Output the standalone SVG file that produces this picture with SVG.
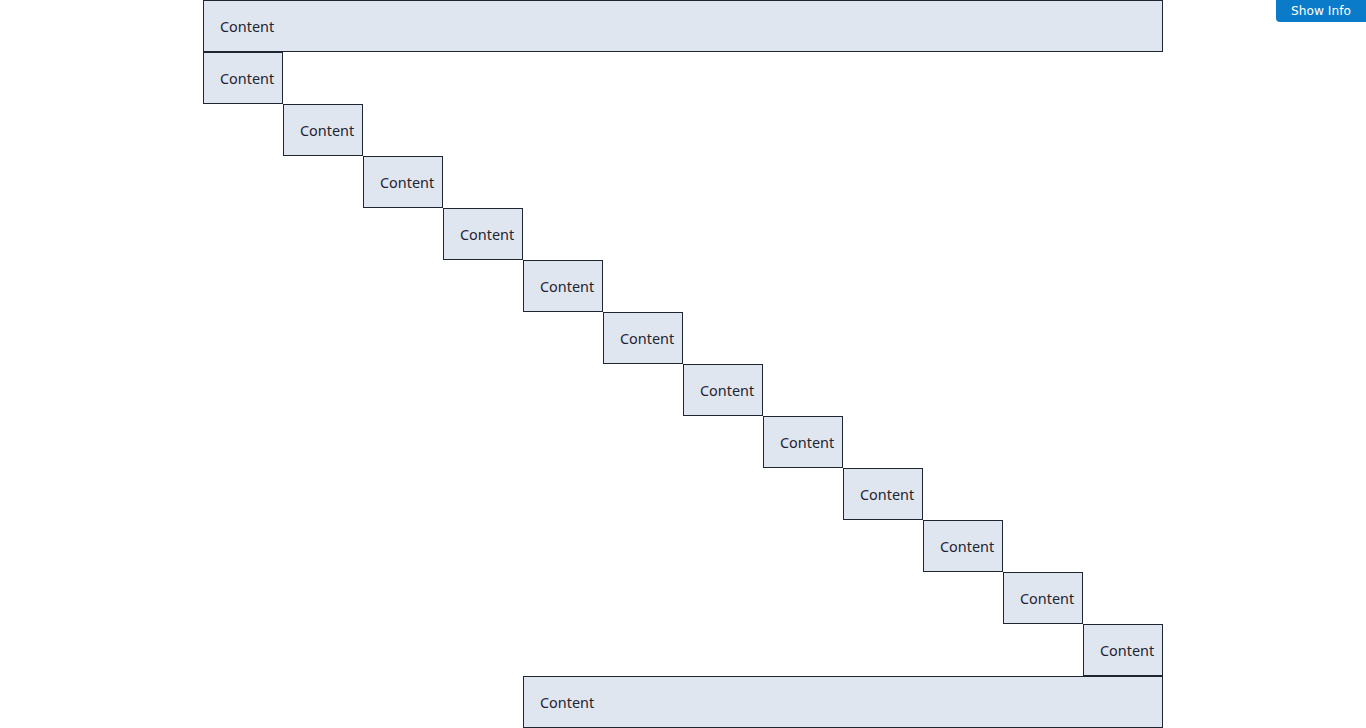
<svg xmlns="http://www.w3.org/2000/svg" width="1366" height="728" viewBox="0 0 1366 728">
<style>
.box{fill:#e0e6f0;stroke:#1e2430;stroke-width:1}
.t{font-family:"Noto Sans","Open Sans",sans-serif;font-size:14.4px;fill:#1e2430}
.btn{fill:#0a7bc8}
.bt{font-family:"DejaVu Sans",sans-serif;font-size:12.2px;fill:#ffffff}
</style>
<rect width="1366" height="728" fill="#ffffff"/>
<g id="connectors"></g>
<g id="n-top"><rect class="box" x="203.5" y="0.5" width="959" height="51"/><text class="t" x="220" y="32">Content</text></g>
<g id="n1"><rect class="box" x="203.5" y="52.5" width="79" height="51"/><text class="t" x="220" y="84">Content</text></g>
<g id="n2"><rect class="box" x="283.5" y="104.5" width="79" height="51"/><text class="t" x="300" y="136">Content</text></g>
<g id="n3"><rect class="box" x="363.5" y="156.5" width="79" height="51"/><text class="t" x="380" y="188">Content</text></g>
<g id="n4"><rect class="box" x="443.5" y="208.5" width="79" height="51"/><text class="t" x="460" y="240">Content</text></g>
<g id="n5"><rect class="box" x="523.5" y="260.5" width="79" height="51"/><text class="t" x="540" y="292">Content</text></g>
<g id="n6"><rect class="box" x="603.5" y="312.5" width="79" height="51"/><text class="t" x="620" y="344">Content</text></g>
<g id="n7"><rect class="box" x="683.5" y="364.5" width="79" height="51"/><text class="t" x="700" y="396">Content</text></g>
<g id="n8"><rect class="box" x="763.5" y="416.5" width="79" height="51"/><text class="t" x="780" y="448">Content</text></g>
<g id="n9"><rect class="box" x="843.5" y="468.5" width="79" height="51"/><text class="t" x="860" y="500">Content</text></g>
<g id="n10"><rect class="box" x="923.5" y="520.5" width="79" height="51"/><text class="t" x="940" y="552">Content</text></g>
<g id="n11"><rect class="box" x="1003.5" y="572.5" width="79" height="51"/><text class="t" x="1020" y="604">Content</text></g>
<g id="n12"><rect class="box" x="1083.5" y="624.5" width="79" height="51"/><text class="t" x="1100" y="656">Content</text></g>
<g id="n-bottom"><rect class="box" x="523.5" y="676.5" width="639" height="51"/><text class="t" x="540" y="708">Content</text></g>
<g id="show-info"><path class="btn" d="M1276 0H1366V22H1280Q1276 22 1276 18Z"/><text class="bt" x="1321" y="15" text-anchor="middle">Show Info</text></g>
</svg>
